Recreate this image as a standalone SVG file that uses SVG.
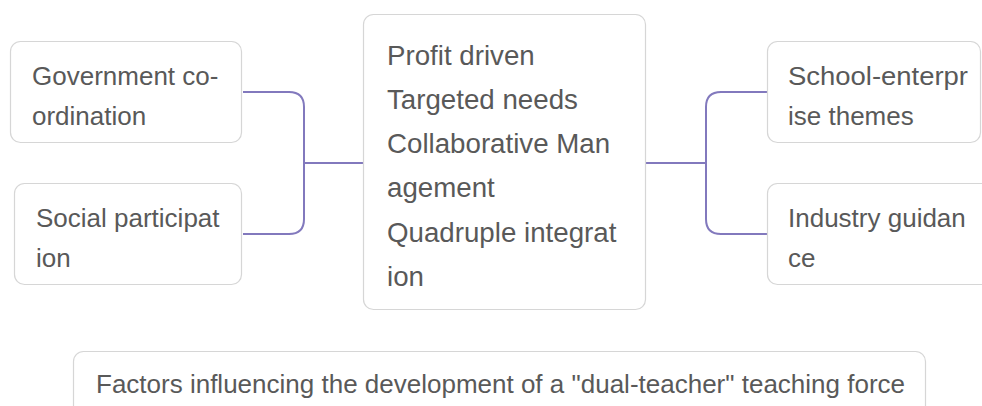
<svg xmlns="http://www.w3.org/2000/svg" width="982" height="406" viewBox="0 0 982 406">
<style>
.box{fill:#ffffff;stroke:#d6d6d6;stroke-width:1.2}
.t{font-family:"Liberation Sans",Arial,sans-serif;font-size:26px;fill:#595959}
.tc{font-size:27.7px}
.c{fill:none;stroke:#8279BD;stroke-width:2}
</style>
<rect width="982" height="406" fill="#ffffff"/>
<g id="connectors">
<path class="c" d="M243 92 H289 Q304 92 304 107 V219 Q304 234 289 234 H243"/>
<path class="c" d="M304 163 H363"/>
<path class="c" d="M646 163 H706"/>
<path class="c" d="M767 92 H721 Q706 92 706 107 V219 Q706 234 721 234 H767"/>
</g>
<g id="node-government">
<rect class="box" x="10.5" y="41.5" width="231" height="101" rx="10"/>
<text class="t" x="32" y="85">Government co-</text>
<text class="t" x="32" y="125">ordination</text>
</g>
<g id="node-social">
<rect class="box" x="14.5" y="183.5" width="227" height="101" rx="10"/>
<text class="t" x="36" y="227">Social participat</text>
<text class="t" x="36" y="267">ion</text>
</g>
<g id="node-center">
<rect class="box" x="363.5" y="14.5" width="282" height="295" rx="10"/>
<text class="t tc" x="387" y="65">Profit driven</text>
<text class="t tc" x="387" y="109">Targeted needs</text>
<text class="t tc" x="387" y="153">Collaborative Man</text>
<text class="t tc" x="387" y="197">agement</text>
<text class="t tc" x="387" y="242">Quadruple integrat</text>
<text class="t tc" x="387" y="286">ion</text>
</g>
<g id="node-school">
<rect class="box" x="767.5" y="41.5" width="213" height="101" rx="10"/>
<text class="t" x="788" y="85" textLength="180" lengthAdjust="spacingAndGlyphs">School-enterpr</text>
<text class="t" x="788" y="125">ise themes</text>
</g>
<g id="node-industry">
<rect class="box" x="767.5" y="183.5" width="230" height="101" rx="10"/>
<text class="t" x="788" y="227">Industry guidan</text>
<text class="t" x="788" y="267">ce</text>
</g>
<g id="node-title">
<rect class="box" x="73.5" y="351.5" width="852" height="70" rx="10"/>
<text class="t" x="96" y="393">Factors influencing the development of a "dual-teacher" teaching force</text>
</g>
</svg>
